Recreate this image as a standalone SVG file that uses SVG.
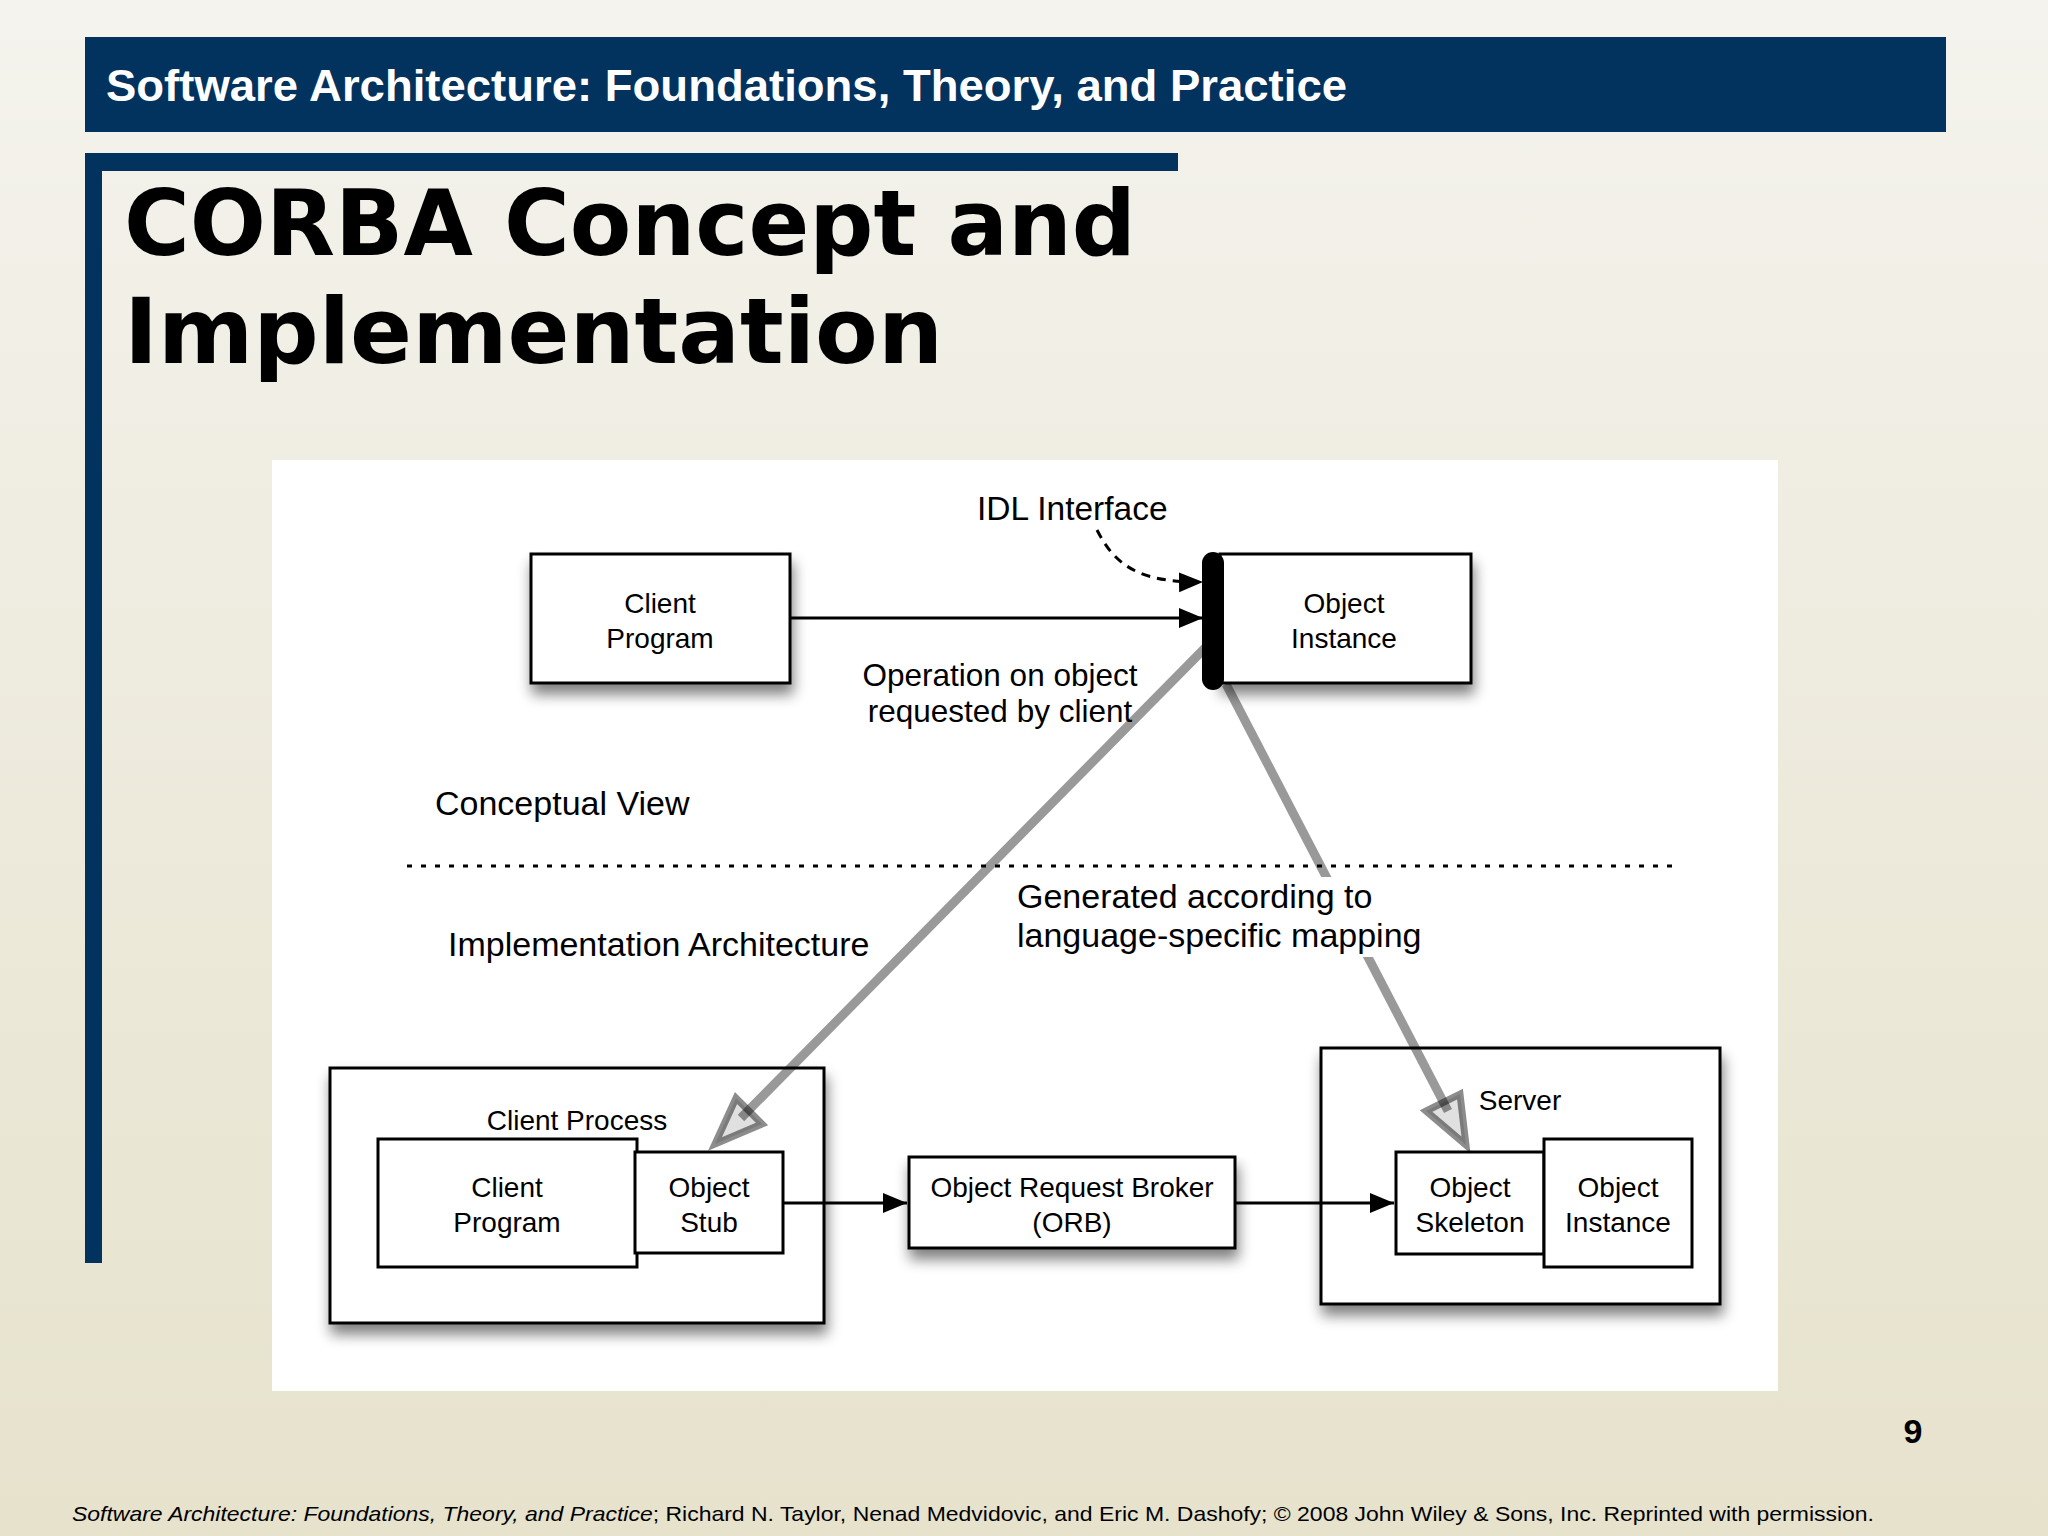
<svg xmlns="http://www.w3.org/2000/svg" width="2048" height="1536" viewBox="0 0 2048 1536">
  <defs>
    <linearGradient id="bg" x1="0" y1="0" x2="0" y2="1">
      <stop offset="0" stop-color="#f4f3ed"/>
      <stop offset="1" stop-color="#e6e2cc"/>
    </linearGradient>
    <filter id="sh" x="-10%" y="-10%" width="125%" height="145%">
      <feGaussianBlur in="SourceAlpha" stdDeviation="7"/>
      <feOffset dx="2" dy="10"/>
      <feComponentTransfer><feFuncA type="linear" slope="0.5"/></feComponentTransfer>
      <feMerge><feMergeNode/><feMergeNode in="SourceGraphic"/></feMerge>
    </filter>
    <marker id="ah" markerUnits="userSpaceOnUse" markerWidth="26" markerHeight="22" refX="24" refY="10" orient="auto">
      <path d="M0,0 L24,10 L0,20 z" fill="#000"/>
    </marker>
    <style>
      .box { fill: #fff; stroke: #000; stroke-width: 3; }
      .t { font-family: "Liberation Sans", Arial, Helvetica, sans-serif; fill: #000; }
      .bx { font-size: 28px; text-anchor: middle; }
      .lb { font-size: 34px; }
      .conn { fill: none; stroke: #000; stroke-width: 3; }
      .dash { stroke-dasharray: 9 7; }
      .grey { fill: none; stroke: #000; stroke-opacity: 0.4; stroke-width: 9; }
      .tri { fill: #000; fill-opacity: 0.12; stroke: #000; stroke-opacity: 0.45; stroke-width: 7; stroke-linejoin: miter; }
    </style>
  </defs>

  <!-- slide background -->
  <rect x="0" y="0" width="2048" height="1536" fill="url(#bg)"/>

  <!-- header bar -->
  <rect x="85" y="37" width="1861" height="95" fill="#02325e"/>
  <text x="106" y="101" font-family="Liberation Sans, Arial, sans-serif" font-weight="bold" font-size="45" textLength="1241" lengthAdjust="spacingAndGlyphs" fill="#fff">Software Architecture: Foundations, Theory, and Practice</text>

  <!-- title frame -->
  <rect x="85" y="153" width="1093" height="18" fill="#02325e"/>
  <rect x="85" y="153" width="17" height="1110" fill="#02325e"/>
  <text x="124" y="255" font-family="DejaVu Sans, Verdana, sans-serif" font-weight="bold" font-size="91" textLength="1012" lengthAdjust="spacingAndGlyphs" fill="#000">CORBA Concept and</text>
  <text x="124" y="363" font-family="DejaVu Sans, Verdana, sans-serif" font-weight="bold" font-size="91" textLength="819" lengthAdjust="spacingAndGlyphs" fill="#000">Implementation</text>

  <!-- diagram panel -->
  <rect x="272" y="460" width="1506" height="931" fill="#fff"/>

  <!-- labels -->
  <text class="t" x="977" y="520" font-size="33.5">IDL Interface</text>
  <text class="t" x="1000" y="686" font-size="31.5" text-anchor="middle">Operation on object</text>
  <text class="t" x="1000" y="722" font-size="31.5" text-anchor="middle">requested by client</text>
  <text class="t lb" x="435" y="815">Conceptual View</text>
  <text class="t lb" x="448" y="956">Implementation Architecture</text>

  <!-- divider -->
  <line x1="407" y1="866" x2="1678" y2="866" stroke="#000" stroke-width="3" stroke-dasharray="5 9"/>

  <!-- conceptual nodes -->
  <g id="client-program-top">
    <rect class="box" x="531" y="554" width="259" height="129" filter="url(#sh)"/>
    <text class="t bx" x="660" y="613">Client</text>
    <text class="t bx" x="660" y="648">Program</text>
  </g>
  <g id="object-instance-top">
    <rect class="box" x="1220" y="554" width="251" height="129" filter="url(#sh)"/>
    <text class="t bx" x="1344" y="613">Object</text>
    <text class="t bx" x="1344" y="648">Instance</text>
  </g>
  <g id="idl-interface-bar">
    <rect x="1202" y="552" width="22" height="138" rx="11" ry="11" fill="#000"/>
  </g>

  <!-- implementation nodes -->
  <g id="client-process">
    <rect class="box" x="330" y="1068" width="494" height="255" filter="url(#sh)"/>
    <text class="t bx" x="577" y="1130">Client Process</text>
  </g>
  <g id="client-program-impl">
    <rect class="box" x="378" y="1139" width="259" height="128"/>
    <text class="t bx" x="507" y="1197">Client</text>
    <text class="t bx" x="507" y="1232">Program</text>
  </g>
  <g id="object-stub">
    <rect class="box" x="635" y="1152" width="148" height="101"/>
    <text class="t bx" x="709" y="1197">Object</text>
    <text class="t bx" x="709" y="1232">Stub</text>
  </g>
  <g id="orb">
    <rect class="box" x="909" y="1157" width="326" height="91" filter="url(#sh)"/>
    <text class="t bx" x="1072" y="1197">Object Request Broker</text>
    <text class="t bx" x="1072" y="1232">(ORB)</text>
  </g>
  <g id="server">
    <rect class="box" x="1321" y="1048" width="399" height="256" filter="url(#sh)"/>
    <text class="t bx" x="1520" y="1110">Server</text>
  </g>
  <g id="object-skeleton">
    <rect class="box" x="1396" y="1152" width="148" height="102"/>
    <text class="t bx" x="1470" y="1197">Object</text>
    <text class="t bx" x="1470" y="1232">Skeleton</text>
  </g>
  <g id="object-instance-impl">
    <rect class="box" x="1544" y="1139" width="148" height="128"/>
    <text class="t bx" x="1618" y="1197">Object</text>
    <text class="t bx" x="1618" y="1232">Instance</text>
  </g>

  <!-- connectors -->
  <g id="connectors">
    <line class="conn" x1="790" y1="618" x2="1203" y2="618" marker-end="url(#ah)"/>
    <path class="conn dash" d="M1097,530 C1114,563 1136,583 1203,582" marker-end="url(#ah)"/>
    <line class="conn" x1="783" y1="1203" x2="907" y2="1203" marker-end="url(#ah)"/>
    <line class="conn" x1="1236" y1="1203" x2="1394" y2="1203" marker-end="url(#ah)"/>
    <line class="grey" x1="1205" y1="648" x2="741" y2="1118"/>
    <polygon class="tri" points="715,1144 736,1098 762,1124"/>
    <line class="grey" x1="1226" y1="684" x2="1448" y2="1111"/>
    <polygon class="tri" points="1466,1145 1426,1111 1460,1094"/>
  </g>

  <!-- knock-out label -->
  <rect x="1010" y="877" width="415" height="80" fill="#fff"/>
  <text class="t lb" x="1017" y="908">Generated according to</text>
  <text class="t lb" x="1017" y="947">language-specific mapping</text>

  <!-- page number and footer -->
  <text x="1913" y="1443" font-family="Liberation Sans, Arial, sans-serif" font-weight="bold" font-size="34" text-anchor="middle" fill="#000">9</text>
  <text x="72" y="1521" font-family="Liberation Sans, Arial, sans-serif" font-size="21" textLength="1802" lengthAdjust="spacingAndGlyphs" fill="#000"><tspan font-style="italic">Software Architecture: Foundations, Theory, and Practice</tspan>; Richard N. Taylor, Nenad Medvidovic, and Eric M. Dashofy; © 2008 John Wiley &amp; Sons, Inc. Reprinted with permission.</text>
</svg>
